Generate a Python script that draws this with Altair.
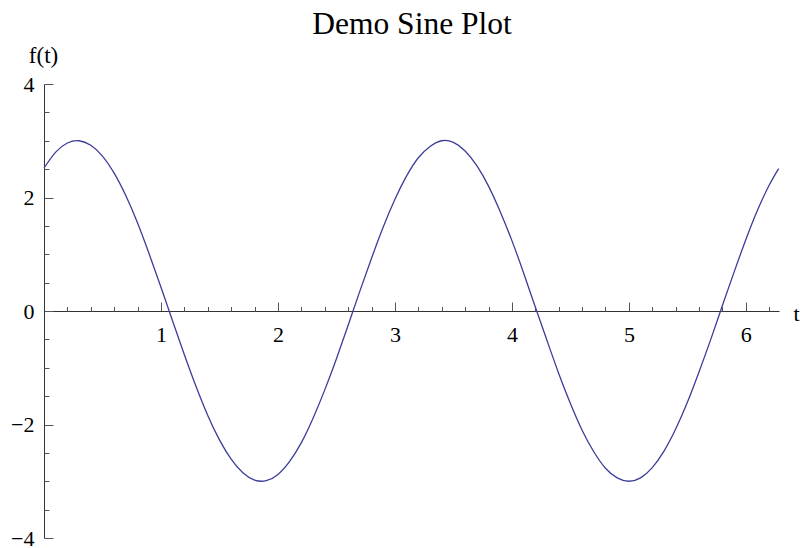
import altair as alt
import pandas as pd

# values
t_values = [0.0, 0.1, 0.2, 0.3, 0.4, 0.5, 0.6, 0.7, 0.8, 0.9,
            1.0, 1.1, 1.2, 1.3, 1.4, 1.5, 1.6, 1.7, 1.8, 1.9,
            2.0, 2.1, 2.2, 2.3, 2.4, 2.5, 2.6, 2.7, 2.8, 2.9,
            3.0, 3.1, 3.2, 3.3, 3.4, 3.5, 3.6, 3.7, 3.8, 3.9,
            4.0, 4.1, 4.2, 4.3, 4.4, 4.5, 4.6, 4.7, 4.8, 4.9,
            5.0, 5.1, 5.2, 5.3, 5.4, 5.5, 5.6, 5.7, 5.8, 5.9,
            6.0, 6.1, 6.2, 6.28]
f_values = [2.52, 2.80, 2.96, 3.00, 2.92, 2.73, 2.43, 2.03, 1.55, 1.00,
            0.42, -0.18, -0.77, -1.33, -1.84, -2.27, -2.61, -2.85, -2.98, -2.99,
            -2.88, -2.65, -2.32, -1.89, -1.39, -0.84, -0.25, 0.35, 0.93, 1.48,
            1.97, 2.38, 2.70, 2.90, 3.00, 2.97, 2.82, 2.56, 2.20, 1.75,
            1.24, 0.67, 0.07, -0.52, -1.10, -1.63, -2.10, -2.48, -2.77, -2.94,
            -3.00, -2.94, -2.76, -2.47, -2.08, -1.61, -1.07, -0.50, 0.10, 0.69,
            1.26, 1.78, 2.22, 2.51]

x_major = [1, 2, 3, 4, 5, 6]
x_minor = [0.2, 0.4, 0.6, 0.8, 1.2, 1.4, 1.6, 1.8, 2.2, 2.4, 2.6, 2.8,
           3.2, 3.4, 3.6, 3.8, 4.2, 4.4, 4.6, 4.8, 5.2, 5.4, 5.6, 5.8, 6.2]
y_major = [-4, -2, 0, 2, 4]
y_minor = [-3.5, -3, -2.5, -1.5, -1, -0.5, 0.5, 1, 1.5, 2.5, 3, 3.5]
x_domain = [0, 6.2832]
y_domain = [-4, 4]
chart_title = "Demo Sine Plot"

W, H = 735, 454
FONT = "Liberation Serif"
AXIS_COLOR = "#333333"
TICK_COLOR = "#555555"

df = pd.DataFrame({"t": t_values, "f": f_values})

xscale = alt.Scale(domain=x_domain, nice=False, zero=False)
yscale = alt.Scale(domain=y_domain, nice=False, zero=False)

main = alt.Chart(df).mark_line(
    color="#3d3d99", strokeWidth=1.3, interpolate="natural"
).encode(
    x=alt.X("t:Q", scale=xscale, axis=alt.Axis(
        orient="top", offset=-H / 2, values=x_major,
        tickSize=9, tickColor=TICK_COLOR, tickWidth=1,
        domain=True, domainColor=AXIS_COLOR, domainWidth=1,
        labels=True, labelPadding=-39, labelBaseline="alphabetic",
        labelAlign="center", labelFont=FONT, labelFontSize=22,
        labelColor="#000000", labelFlush=False,
        grid=False,
        title="t", titleX=W + 14, titleY=9, titleAngle=0,
        titleAlign="left", titleBaseline="alphabetic",
        titleFont=FONT, titleFontSize=22, titleFontWeight="normal",
        titleColor="#000000",
    )),
    y=alt.Y("f:Q", scale=yscale, axis=alt.Axis(
        orient="right", offset=-W, values=y_major,
        tickSize=9, tickColor=TICK_COLOR, tickWidth=1,
        domain=True, domainColor=AXIS_COLOR, domainWidth=1,
        labels=True, labelPadding=-19, labelAlign="right",
        labelBaseline="middle", labelFont=FONT, labelFontSize=22,
        labelColor="#000000", labelFlush=False,
        grid=False,
        title="f(t)", titleX=-1, titleY=-22, titleAngle=0,
        titleAlign="center", titleBaseline="alphabetic",
        titleFont=FONT, titleFontSize=23, titleFontWeight="normal",
        titleColor="#000000",
    )),
)

# second layer: minor ticks, and the heading placed through its axis title
minor = alt.Chart(df).mark_line(opacity=0).encode(
    x=alt.X("t:Q", scale=xscale, axis=alt.Axis(
        orient="top", offset=-H / 2, values=x_minor,
        tickSize=4.5, tickColor=TICK_COLOR, tickWidth=1,
        domain=False, labels=False, grid=False,
        title=chart_title, titleX=W / 2, titleY=-(H / 2) - 51,
        titleAngle=0, titleAlign="center", titleBaseline="alphabetic",
        titleFont=FONT, titleFontSize=31.5, titleFontWeight="normal",
        titleColor="#000000",
    )),
    y=alt.Y("f:Q", scale=yscale, title=None, axis=alt.Axis(
        orient="right", offset=-W, values=y_minor,
        tickSize=5, tickColor=TICK_COLOR, tickWidth=1,
        domain=False, labels=False, grid=False,
    )),
)

chart = alt.layer(main, minor).resolve_axis(
    x="independent", y="independent"
).properties(
    width=W, height=H,
    autosize="none",
    padding={"left": 36, "top": 76, "right": 22, "bottom": 10},
).configure_view(strokeWidth=0)

chart.save("out.html", embed_options={"renderer": "svg", "actions": False})
